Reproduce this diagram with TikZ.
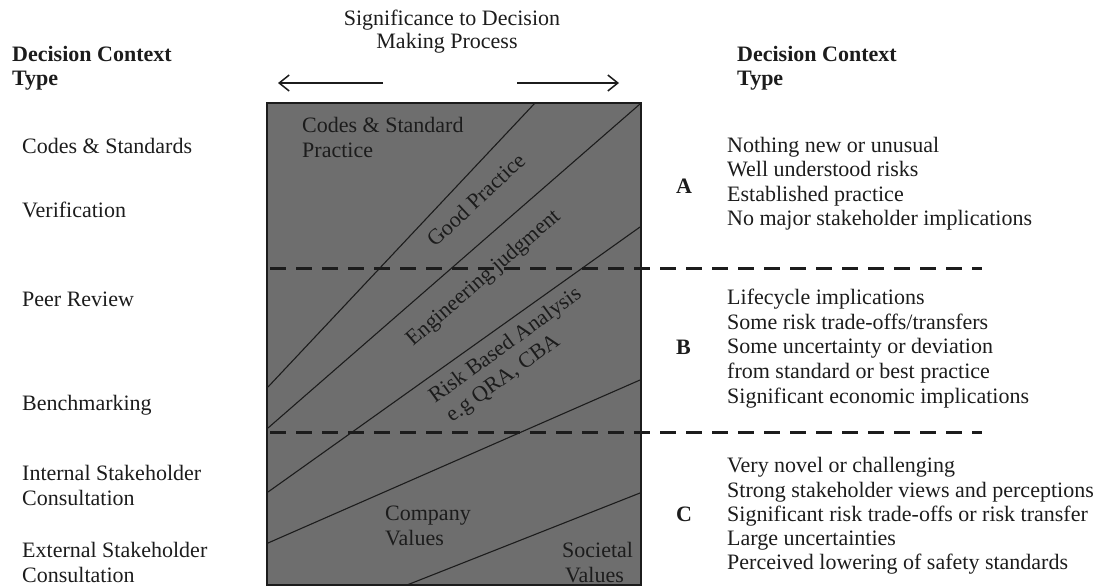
\documentclass[tikz,border=0pt]{standalone}
\usepackage{fontspec}
\setmainfont{Liberation Serif}
\usetikzlibrary{arrows.meta}
\definecolor{ink}{RGB}{28,28,28}
\definecolor{panel}{RGB}{110,110,110}
\begin{document}
\begin{tikzpicture}[x=1pt,y=-1pt,
  txt/.style={inner sep=0pt, anchor=base west, text=ink, font=\fontsize{22}{24}\selectfont},
  ctr/.style={txt, anchor=base},
  hdr/.style={txt, font=\fontsize{22}{24}\selectfont\bfseries},
  zone/.style={draw=ink, line width=1.1pt},
  split/.style={draw=ink, line width=3pt, dash pattern=on 16pt off 10pt},
  sig/.style={draw=ink, line width=1.5pt, -{Straight Barb[length=10pt,width=16pt]}}
]
\useasboundingbox (0,0) rectangle (1097,587);

% the central panel
\filldraw[fill=panel, draw=ink, line width=1.2pt] (267,103) rectangle (641,585);

% boundaries between the approaches
\draw[zone] (535,103) -- (268,387);
\draw[zone] (640,104) -- (268,428);
\draw[zone] (640,227) -- (268,492);
\draw[zone] (640,380) -- (268,543);
\draw[zone] (640,493) -- (407,585);

% split into decision context types
\coordinate (s1a) at (270,268);
\coordinate (s1b) at (982,268);
\coordinate (s2a) at (270,432);
\coordinate (s2b) at (982,432);
\draw[split] (s1a) -- (s1b);
\draw[split] (s2a) -- (s2b);

% title and arrows
\node[ctr] (t1) at (452,25) {Significance to Decision};
\node[ctr] (t2) at (447,48) {Making Process};
\coordinate (la) at (383,83);
\coordinate (lb) at (278,83);
\coordinate (ra) at (517,83);
\coordinate (rb) at (619,83);
\draw[sig] (la) -- (lb);
\draw[sig] (ra) -- (rb);

% labels inside the panel
\node[txt] (cs1) at (302,132) {Codes \& Standard};
\node[txt] (cs2) at (302,157) {Practice};
\node[txt, rotate=43] (gp) at (435,248) {Good Practice};
\node[txt, rotate=41] (ej) at (413,347) {Engineering judgment};
\node[txt, rotate=36] (rb1) at (435,404) {Risk Based Analysis};
\node[txt, rotate=36] (rb2) at (452,423) {e.g QRA, CBA};
\node[txt] (cv1) at (385,520) {Company};
\node[txt] (cv2) at (385,545) {Values};
\node[txt] (sv1) at (562,557) {Societal};
\node[txt] (sv2) at (565,582) {Values};

% left column
\node[hdr] (lh1) at (12,61) {Decision Context};
\node[hdr] (lh2) at (12,85) {Type};
\node[txt] (l1) at (22,153) {Codes \& Standards};
\node[txt] (l2) at (22,217) {Verification};
\node[txt] (l3) at (22,306) {Peer Review};
\node[txt] (l4) at (22,410) {Benchmarking};
\node[txt] (l5) at (22,480) {Internal Stakeholder};
\node[txt] (l6) at (22,505) {Consultation};
\node[txt] (l7) at (22,557) {External Stakeholder};
\node[txt] (l8) at (22,582) {Consultation};

% right column
\node[hdr] (rh1) at (737,61) {Decision Context};
\node[hdr] (rh2) at (737,85) {Type};

\node[hdr] (ka) at (676,193) {A};
\node[txt] (a1) at (727,152) {Nothing new or unusual};
\node[txt] (a2) at (727,176) {Well understood risks};
\node[txt] (a3) at (727,201) {Established practice};
\node[txt] (a4) at (727,225) {No major stakeholder implications};

\node[hdr] (kb) at (676,354) {B};
\node[txt] (b1) at (727,304) {Lifecycle implications};
\node[txt] (b2) at (727,329) {Some risk trade-offs/transfers};
\node[txt] (b3) at (727,353) {Some uncertainty or deviation};
\node[txt] (b4) at (727,378) {from standard or best practice};
\node[txt] (b5) at (727,403) {Significant economic implications};

\node[hdr] (kc) at (676,521) {C};
\node[txt] (c1) at (727,472) {Very novel or challenging};
\node[txt] (c2) at (727,497) {Strong stakeholder views and perceptions};
\node[txt] (c3) at (727,521) {Significant risk trade-offs or risk transfer};
\node[txt] (c4) at (727,545) {Large uncertainties};
\node[txt] (c5) at (727,569) {Perceived lowering of safety standards};
\end{tikzpicture}
\end{document}
